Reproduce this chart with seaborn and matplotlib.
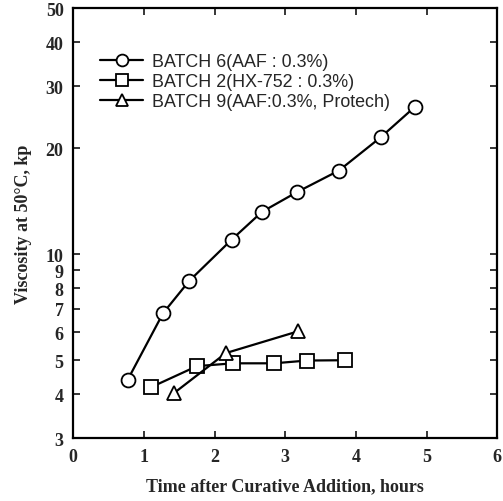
import numpy as np
import pandas as pd
import matplotlib
matplotlib.use("Agg")
import matplotlib.pyplot as plt
import seaborn as sb
from matplotlib.ticker import FixedLocator, NullLocator, NullFormatter

# values
batch6_time = [0.77, 1.27, 1.64, 2.24, 2.67, 3.16, 3.76, 4.35, 4.83]
batch6_visc = [4.4, 6.8, 8.4, 11.0, 13.2, 15.0, 17.3, 21.5, 26.2]
batch2_time = [1.10, 1.75, 2.26, 2.84, 3.31, 3.85]
batch2_visc = [4.19, 4.81, 4.90, 4.90, 4.99, 5.0]
batch9_time = [1.43, 2.16, 3.18]
batch9_visc = [4.04, 5.24, 6.04]

labels = ["BATCH 6(AAF : 0.3%)", "BATCH 2(HX-752 : 0.3%)", "BATCH 9(AAF:0.3%, Protech)"]
y_ticks = [3, 4, 5, 6, 7, 8, 9, 10, 20, 30, 40, 50]
x_ticks = [0, 1, 2, 3, 4, 5, 6]

sb.set_style("ticks")
plt.rcParams['font.family'] = ['Liberation Serif', 'DejaVu Serif']

fig = plt.figure(figsize=(5.03, 5.02), dpi=100)
ax = fig.add_axes([0.1457, 0.1249, 0.8430, 0.8566])

series = [(batch6_time, batch6_visc, "o", 10), (batch2_time, batch2_visc, "s", 9.5),
          (batch9_time, batch9_visc, "^", 10)]
for (t, v, m, ms), lab in zip(series, labels):
    sb.lineplot(x=t, y=v, ax=ax, color="black", lw=1.6, marker=m, markersize=ms,
                markerfacecolor="white", markeredgecolor="black", markeredgewidth=1.3,
                label=lab)

ax.set_yscale("log")
ax.set_xlim(0, 6)
ax.set_ylim(3, 50)
ax.xaxis.set_major_locator(FixedLocator(x_ticks))
ax.yaxis.set_major_locator(FixedLocator(y_ticks))
ax.yaxis.set_minor_locator(NullLocator())
ax.yaxis.set_minor_formatter(NullFormatter())
ax.set_yticklabels([str(v) for v in y_ticks])
ax.tick_params(direction="in", length=5, width=1.3, top=True, right=True,
               labelsize=13, pad=7)
for lbl in ax.get_xticklabels() + ax.get_yticklabels():
    lbl.set_fontweight("bold")
for sp in ax.spines.values():
    sp.set_linewidth(1.6)
    sp.set_color("black")

ax.set_xlabel("Time after Curative Addition, hours", fontsize=13, fontweight="bold", labelpad=9)
ax.set_ylabel("Viscosity at 50°C, kp", fontsize=13, fontweight="bold", labelpad=10)

leg = ax.legend(loc="upper left", bbox_to_anchor=(0.025, 0.934), frameon=False,
                handlelength=2.4, handletextpad=0.5, labelspacing=0.17, markerscale=0.85,
                prop={"family": "Liberation Sans", "size": 12.9})

fig.savefig("out.png", dpi=100)
